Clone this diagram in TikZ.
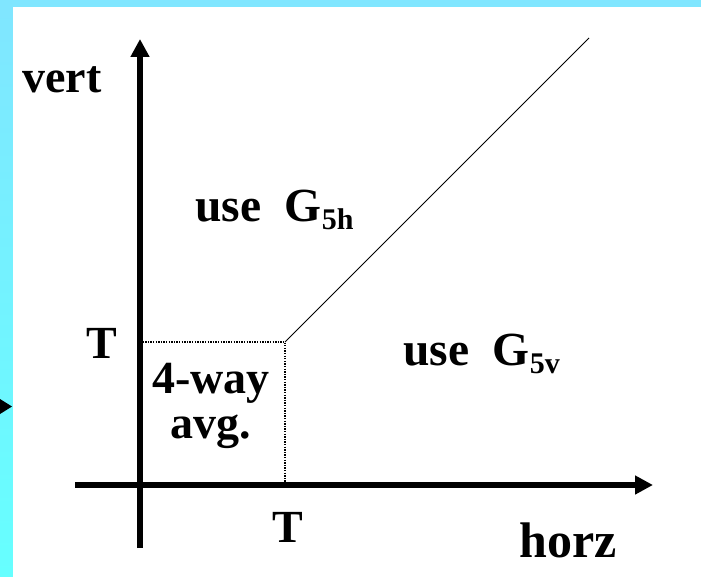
\documentclass[tikz,border=0pt]{standalone}
\usepackage{fontspec}
\setmainfont{Liberation Serif}
\usepackage{tikz}
\usetikzlibrary{arrows.meta, positioning}
\definecolor{FrameCyan}{HTML}{80E6FF}
\definecolor{FrameAqua}{HTML}{66FFFF}
\definecolor{InkBlack}{HTML}{000000}
\newcommand{\lowidx}[1]{\raisebox{-8pt}{\fontsize{30}{30}\selectfont #1}}

\tikzset{
    axisline/.style={line width=5.5pt, InkBlack, -{Triangle[length=18pt,width=18pt]}},
    label/.style={font=\fontsize{46}{50}\selectfont\bfseries, inner sep=0pt, anchor=base west}
}

\begin{document}
\begin{tikzpicture}[x=1pt, y=-1pt]
% frame
\fill[FrameCyan] (0,0) rectangle (701,577);
\shade[top color=FrameCyan, bottom color=FrameAqua] (0,7) rectangle (13,577);
\fill[white] (13,7) rectangle (701,577);
\fill[InkBlack] (0,399) -- (12,406.5) -- (0,414) -- cycle;

% axes
\coordinate (ybot) at (140,548);
\coordinate (ytop) at (140,39);
\coordinate (xleft) at (75,485);
\coordinate (xright) at (653,485);
\draw[axisline] (ybot) -- (ytop);
\draw[axisline] (xleft) -- (xright);

% threshold box and diagonal
\coordinate (corner) at (285,342);
\coordinate (vmark) at (140,342);
\coordinate (hmark) at (285,485);
\coordinate (diagend) at (589,38);
\draw[line width=1.3pt, dash pattern=on 1.3pt off 1.3pt] (vmark) -- (corner) -- (hmark);
\draw[line width=0.8pt] (corner) -- (diagend);

% labels
\node[label] (vert) at (22,93) {vert};
\node[label, font=\fontsize{50}{54}\selectfont\bfseries] (horz) at (519,557) {horz};
\node[label] (tvert) at (86,358) {T};
\node[label] (thorz) at (272,542) {T};
\node[label, font=\fontsize{47.5}{50}\selectfont\bfseries] (useh) at (195,222) {use\ \ G\lowidx{5h}};
\node[label, font=\fontsize{47.5}{50}\selectfont\bfseries] (usev) at (403,365) {use\ \ G\lowidx{5v}};
\node[label, anchor=base, align=center, font=\fontsize{46}{45}\selectfont\bfseries] (avg) at (211,438) {4-way\\avg.};
\end{tikzpicture}
\end{document}
